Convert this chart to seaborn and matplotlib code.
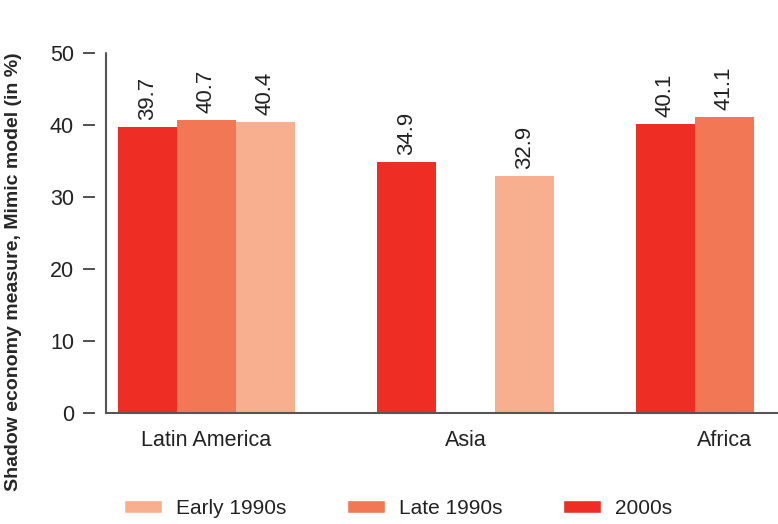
import numpy as np
import pandas as pd
import matplotlib
matplotlib.use('Agg')
import matplotlib.pyplot as plt
from matplotlib.patches import Patch
import seaborn as sns

# data
regions = ['Latin America', 'Asia', 'Africa']
periods = ['2000s', 'Late 1990s', 'Early 1990s']
vals_2000s = [39.7, 34.9, 40.1]
vals_late90s = [40.7, np.nan, 41.1]
vals_early90s = [40.4, 32.9, np.nan]
colors = {'2000s': '#EE2E24', 'Late 1990s': '#F27855', 'Early 1990s': '#F8AF90'}

df = pd.DataFrame({
    'Region': regions * 3,
    'Period': ['2000s'] * 3 + ['Late 1990s'] * 3 + ['Early 1990s'] * 3,
    'Value': vals_2000s + vals_late90s + vals_early90s,
})

sns.set_style('white')
plt.rcParams['font.family'] = ['Liberation Sans', 'DejaVu Sans']

fig = plt.figure(figsize=(7.78, 5.24), dpi=100)
ax = fig.add_axes([0.1362, 0.2118, 0.8638, 0.687])

sns.barplot(data=df, x='Region', y='Value', hue='Period', order=regions,
            hue_order=periods, palette=colors, width=0.683, saturation=1,
            linewidth=0, ax=ax, legend=False)

for c in ax.containers:
    ax.bar_label(c, fmt='%.1f', rotation=90, padding=5, fontsize=16, color='#222222')

ax.set_ylim(0, 50)
ax.set_xlim(-0.388, 2.207)
ax.set_yticks([0, 10, 20, 30, 40, 50])
ax.set_xlabel('')
ax.set_ylabel('Shadow economy measure, Mimic model (in %)', fontsize=14,
              fontweight='bold')
ax.yaxis.set_label_coords(-0.125, 0.392)

for s in ['top', 'right']:
    ax.spines[s].set_visible(False)
ax.spines['left'].set_position(('outward', 8))
ax.spines['left'].set_visible(False)
ax.plot([0, 0], [0, 1], transform=ax.transAxes, color='#555555', lw=1.5, clip_on=False)
ax.spines['bottom'].set_color('#555555')
ax.spines['bottom'].set_linewidth(1.5)

ax.tick_params(axis='y', direction='out', length=9, width=1.2, color='#333333',
               labelsize=15.5, labelcolor='#222222', pad=6, left=True)
ax.tick_params(axis='x', length=0, labelsize=15.5, labelcolor='#222222', pad=12)

handles = [Patch(facecolor=colors[p]) for p in ['Early 1990s', 'Late 1990s', '2000s']]
fig.legend(handles, ['Early 1990s', 'Late 1990s', '2000s'], loc='center',
           bbox_to_anchor=(0.512, 0.03), ncol=3, frameon=False, fontsize=15,
           handlelength=1.83, handleheight=0.58, columnspacing=2.9, handletextpad=0.67,
           labelcolor='#222222')

fig.savefig('out.png', dpi=100)
